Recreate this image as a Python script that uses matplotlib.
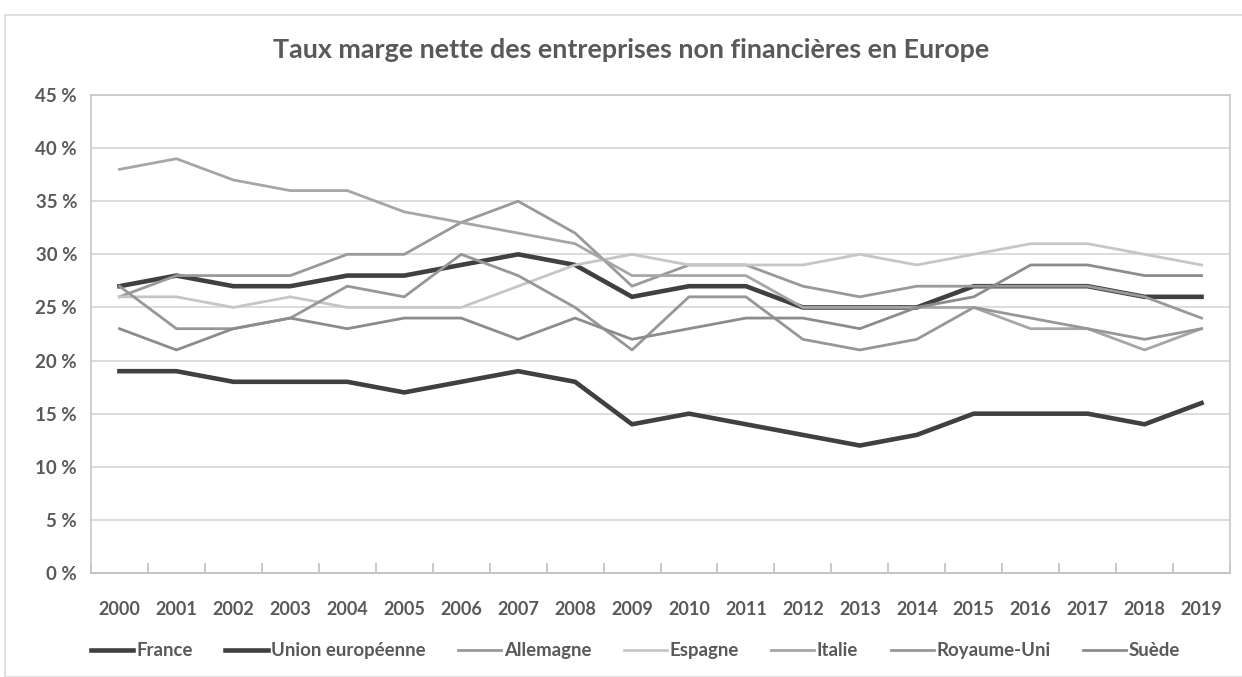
import matplotlib
matplotlib.use("Agg")
import matplotlib.pyplot as plt
from matplotlib.patches import Rectangle
from matplotlib.ticker import FuncFormatter, MultipleLocator

#%% data
years = [str(y) for y in range(2000, 2020)]

france = [27, 28, 27, 27, 28, 28, 29, 30, 29, 26, 27, 27, 25, 25, 25, 27, 27, 27, 26, 26]
ue = [19, 19, 18, 18, 18, 17, 18, 19, 18, 14, 15, 14, 13, 12, 13, 15, 15, 15, 14, 16]
allemagne = [26, 28, 28, 28, 30, 30, 33, 35, 32, 27, 29, 29, 27, 26, 27, 27, 27, 27, 26, 24]
espagne = [26, 26, 25, 26, 25, 25, 25, 27, 29, 30, 29, 29, 29, 30, 29, 30, 31, 31, 30, 29]
italie = [38, 39, 37, 36, 36, 34, 33, 32, 31, 28, 28, 28, 25, 25, 25, 25, 23, 23, 21, 23]
royaume_uni = [27, 23, 23, 24, 27, 26, 30, 28, 25, 21, 26, 26, 22, 21, 22, 25, 24, 23, 22, 23]
suede = [23, 21, 23, 24, 23, 24, 24, 22, 24, 22, 23, 24, 24, 23, 25, 26, 29, 29, 28, 28]

names = ["France", "Union européenne", "Allemagne", "Espagne", "Italie", "Royaume-Uni", "Suède"]

#%% figure
plt.rcParams['font.family'] = ['Lato', 'DejaVu Sans']
txt = '#595959'

fig = plt.figure(figsize=(12.42, 6.77), dpi=100)
fig.patches.append(Rectangle((5 / 1242, 0), 1240 / 1242, 662 / 677, transform=fig.transFigure,
                             fill=False, edgecolor='#d9d9d9', lw=1.2))
ax = fig.add_axes([91 / 1242, 104 / 677, 1139 / 1242, 478 / 677])

x = range(len(years))
series = [
    (france, '#404040', 3.3),
    (ue, '#404040', 3.3),
    (allemagne, '#999999', 2.0),
    (espagne, '#c6c6c6', 2.0),
    (italie, '#a6a6a6', 2.0),
    (royaume_uni, '#979797', 2.0),
    (suede, '#8c8c8c', 2.0),
]
for (vals, col, lw), name in zip(series, names):
    ax.plot(x, vals, color=col, lw=lw, label=name, solid_joinstyle='round')

ax.set_xlim(-0.5, len(years) - 0.5)
ax.set_ylim(0, 45)
ax.yaxis.set_major_locator(MultipleLocator(5))
ax.yaxis.set_major_formatter(FuncFormatter(lambda v, p: f"{int(v)} %"))
ax.set_xticks(list(x))
ax.set_xticklabels(years)
ax.set_xticks([i + 0.5 for i in range(-1, len(years))], minor=True)
ax.grid(axis='y', color='#d9d9d9', lw=1.3)
ax.set_axisbelow(True)

for s in ['top', 'right', 'left']:
    ax.spines[s].set_color('#c8c8c8')
    ax.spines[s].set_linewidth(1.2)
ax.spines['bottom'].set_color('#bfbfbf')
ax.spines['bottom'].set_linewidth(1.3)

ax.tick_params(axis='y', length=0, pad=10, labelsize=13.5, labelcolor=txt)
ax.tick_params(axis='x', which='major', length=0, pad=20, labelsize=13, labelcolor=txt)
ax.tick_params(axis='x', which='minor', length=7, direction='in', color='#bfbfbf', width=1.2)
for lab in ax.get_xticklabels() + ax.get_yticklabels():
    lab.set_fontweight('bold')

fig.text(631 / 1242, 1 - 50 / 677, "Taux marge nette des entreprises non financières en Europe",
         ha='center', va='center', fontsize=19.4, fontweight='bold', color=txt)

leg = ax.legend(loc='center', bbox_to_anchor=(0.478, -0.163), ncol=7, frameon=False,
                handlelength=2.3, handletextpad=0.15, columnspacing=1.75,
                prop={'size': 13.4, 'weight': 'bold'})
for t in leg.get_texts():
    t.set_color(txt)

plt.savefig("out.png", dpi=100)
